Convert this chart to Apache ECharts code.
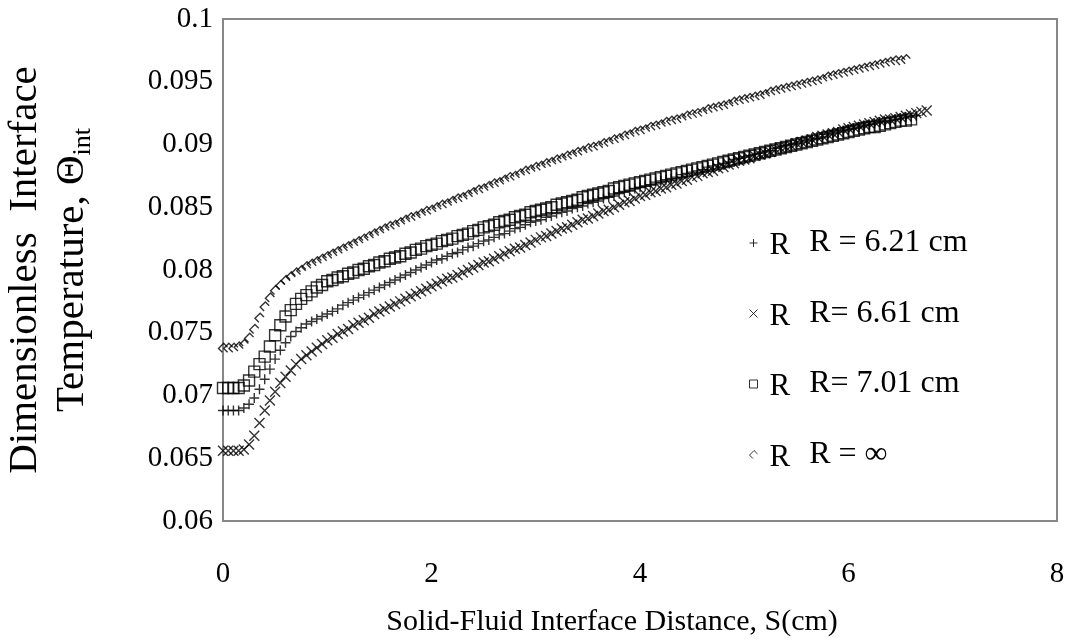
<!DOCTYPE html>
<html>
<head>
<meta charset="utf-8">
<script src="https://cdn.jsdelivr.net/npm/echarts@6/dist/echarts.min.js"></script>
<style>
html,body{margin:0;padding:0;background:#fff;}
#chart{width:1072px;height:641px;}
</style>
</head>
<body>
<div id="chart"></div>
<script>
// Solid-fluid interface distance S (cm), shared sampling positions
const sValues = [
 0,0.05,0.1,0.15,0.2,0.25,0.3,0.35,0.4,0.45,0.5,0.55,0.6,0.65,0.7,0.75,0.8,0.85,0.9,0.95,
 1,1.05,1.1,1.15,1.2,1.25,1.3,1.35,1.4,1.45,1.5,1.55,1.6,1.65,1.7,1.75,1.8,1.85,1.9,1.95,
 2,2.05,2.1,2.15,2.2,2.25,2.3,2.35,2.4,2.45,2.5,2.55,2.6,2.65,2.7,2.75,2.8,2.85,2.9,2.95,
 3,3.05,3.1,3.15,3.2,3.25,3.3,3.35,3.4,3.45,3.5,3.55,3.6,3.65,3.7,3.75,3.8,3.85,3.9,3.95,
 4,4.05,4.1,4.15,4.2,4.25,4.3,4.35,4.4,4.45,4.5,4.55,4.6,4.65,4.7,4.75,4.8,4.85,4.9,4.95,
 5,5.05,5.1,5.15,5.2,5.25,5.3,5.35,5.4,5.45,5.5,5.55,5.6,5.65,5.7,5.75,5.8,5.85,5.9,5.95,
 6,6.05,6.1,6.15,6.2,6.25,6.3,6.35,6.4,6.45,6.5,6.55,6.6,6.65,6.7,6.75
];
// R = 6.21 cm  (+)
const theta621 = [
 .0688,.0688,.0688,.0688,.0690,.0693,.0698,.0705,.0713,.0721,.0729,.0736,.0742,.0747,.0751,.0754,.0757,.0759,.0761,.0763,
 .0765,.0767,.0769,.0772,.0774,.0776,.0778,.0780,.0782,.0784,.0786,.0788,.0790,.0792,.0794,.0796,.0798,.0800,.0802,.0804,
 .0806,.0808,.0809,.0811,.0813,.0814,.0816,.0818,.0819,.0821,.0823,.0824,.0826,.0828,.0829,.0831,.0833,.0834,.0836,.0838,
 .0839,.0840,.0842,.0843,.0845,.0846,.0847,.0849,.0850,.0851,.0853,.0854,.0855,.0857,.0858,.0859,.0861,.0862,.0863,.0865,
 .0866,.0867,.0868,.0870,.0871,.0872,.0873,.0874,.0876,.0877,.0878,.0879,.0880,.0882,.0883,.0884,.0885,.0886,.0888,.0889,
 .0890,.0891,.0892,.0893,.0894,.0895,.0897,.0898,.0899,.0900,.0901,.0902,.0903,.0904,.0905,.0906,.0908,.0909,.0910,.0911,
 .0912,.0913,.0914,.0915,.0916,.0917,.0918,.0918,.0919,.0920,.0921,.0922,.0922,.0923
];
// R = 6.61 cm  (x)
const theta661 = [
 .0656,.0656,.0656,.0656,.0657,.0661,.0668,.0678,.0688,.0696,.0703,.0710,.0715,.0720,.0725,.0729,.0732,.0735,.0738,.0741,
 .0744,.0746,.0749,.0751,.0753,.0756,.0758,.0760,.0762,.0765,.0767,.0769,.0771,.0773,.0775,.0777,.0779,.0781,.0783,.0785,
 .0787,.0789,.0791,.0793,.0794,.0796,.0798,.0800,.0802,.0804,.0806,.0807,.0809,.0811,.0813,.0815,.0817,.0818,.0820,.0822,
 .0824,.0826,.0827,.0829,.0831,.0833,.0834,.0836,.0838,.0840,.0841,.0843,.0845,.0847,.0848,.0850,.0852,.0854,.0855,.0857,
 .0859,.0860,.0862,.0863,.0865,.0866,.0868,.0869,.0871,.0872,.0874,.0875,.0877,.0878,.0879,.0881,.0882,.0884,.0885,.0887,
 .0888,.0889,.0891,.0892,.0893,.0894,.0896,.0897,.0898,.0899,.0901,.0902,.0903,.0904,.0906,.0907,.0908,.0909,.0910,.0912,
 .0913,.0914,.0915,.0916,.0917,.0918,.0919,.0920,.0920,.0921,.0922,.0923,.0924,.0925,.0926,.0927
];
// R = 7.01 cm  (square)
const theta701 = [
 .0706,.0706,.0706,.0706,.0708,.0712,.0719,.0725,.0731,.0739,.0748,.0756,.0763,.0768,.0773,.0777,.0780,.0783,.0786,.0788,
 .0791,.0792,.0794,.0795,.0797,.0798,.0800,.0801,.0803,.0804,.0806,.0807,.0809,.0810,.0811,.0813,.0814,.0816,.0817,.0819,
 .0820,.0821,.0823,.0824,.0825,.0827,.0828,.0829,.0831,.0832,.0834,.0835,.0836,.0838,.0839,.0840,.0842,.0843,.0844,.0846,
 .0847,.0848,.0849,.0850,.0852,.0853,.0854,.0855,.0856,.0858,.0859,.0860,.0861,.0862,.0863,.0865,.0866,.0867,.0868,.0869,
 .0870,.0871,.0872,.0873,.0874,.0875,.0876,.0877,.0878,.0879,.0880,.0881,.0882,.0883,.0884,.0885,.0886,.0887,.0888,.0889,
 .0890,.0891,.0892,.0893,.0894,.0895,.0896,.0897,.0898,.0899,.0900,.0901,.0902,.0903,.0904,.0905,.0906,.0907,.0908,.0909,
 .0910,.0911,.0912,.0913,.0914,.0914,.0915,.0916,.0917,.0918,.0919,.0919,.0920
];
// R = infinity  (diamond)
const thetaInf = [
 .0738,.0738,.0738,.0739,.0741,.0746,.0753,.0762,.0771,.0778,.0784,.0788,.0792,.0795,.0798,.0800,.0803,.0805,.0807,.0809,
 .0811,.0813,.0815,.0817,.0819,.0821,.0823,.0825,.0827,.0829,.0831,.0833,.0835,.0836,.0838,.0840,.0842,.0843,.0845,.0847,
 .0848,.0850,.0852,.0853,.0855,.0857,.0858,.0860,.0862,.0864,.0865,.0867,.0869,.0870,.0872,.0874,.0875,.0877,.0879,.0880,
 .0882,.0883,.0885,.0886,.0888,.0889,.0891,.0892,.0894,.0895,.0897,.0898,.0899,.0901,.0902,.0904,.0905,.0907,.0908,.0910,
 .0911,.0912,.0914,.0915,.0916,.0918,.0919,.0920,.0921,.0923,.0924,.0925,.0926,.0928,.0929,.0930,.0931,.0932,.0934,.0935,
 .0936,.0937,.0938,.0939,.0940,.0942,.0943,.0944,.0945,.0946,.0947,.0948,.0949,.0950,.0951,.0952,.0954,.0955,.0956,.0957,
 .0958,.0959,.0960,.0961,.0962,.0963,.0964,.0965,.0966,.0967,.0967,.0968
];
const seriesNames = ['R = 6.21 cm', 'R= 6.61 cm', 'R= 7.01 cm', 'R = \u221E'];
const xTicks = [0, 2, 4, 6, 8];
const yTicks = [0.06, 0.065, 0.07, 0.075, 0.08, 0.085, 0.09, 0.095, 0.1];

const FONT = '"Liberation Serif", "Times New Roman", serif';
const symPlus = 'path://M5,0L5,10M0,5L10,5';
const symCross = 'path://M0,0L10,10M10,0L0,10';
const symSquare = 'path://M0,0L10,0L10,10L0,10Z';
const symDiamond = 'path://M7,3L4,0L0,4L3,7';

function pts(arr) { return arr.map((v, i) => [sValues[i], v]); }

const markStyle = { color: 'transparent', borderColor: '#000', borderWidth: 1.4 };
const defs = [
  { name: seriesNames[0], data: theta621, symbol: symPlus, size: 10 },
  { name: seriesNames[1], data: theta661, symbol: symCross, size: 10 },
  { name: seriesNames[2], data: theta701, symbol: symSquare, size: 11 },
  { name: seriesNames[3], data: thetaInf, symbol: symDiamond, size: 9 }
];

const chart = echarts.init(document.getElementById('chart'), null, { renderer: 'canvas' });
chart.setOption({
  animation: false,
  backgroundColor: '#fff',
  textStyle: { fontFamily: FONT, color: '#000' },
  grid: { left: 223, right: 15, top: 19, bottom: 120, containLabel: false, outerBoundsMode: 'none',
    show: true, borderColor: '#878787', borderWidth: 2, backgroundColor: 'transparent' },
  xAxis: {
    type: 'value', min: xTicks[0], max: xTicks[xTicks.length - 1], interval: 2,
    axisLine: { show: false }, axisTick: { show: false }, splitLine: { show: false },
    axisLabel: { fontFamily: FONT, fontSize: 29, color: '#000', margin: 39 },
    name: 'Solid-Fluid Interface Distance, S(cm)', nameLocation: 'middle', nameGap: 86,
    nameTextStyle: { fontFamily: FONT, fontSize: 30, color: '#000', padding: [0, 56, 0, 0] }
  },
  yAxis: {
    type: 'value', min: yTicks[0], max: yTicks[yTicks.length - 1], interval: 0.005,
    axisLine: { show: false }, axisTick: { show: false }, splitLine: { show: false },
    axisLabel: { fontFamily: FONT, fontSize: 29, color: '#000', margin: 10,
      formatter: v => String(+v.toFixed(3)) },
    name: 'Dimensionless  Interface\nTemperature, \u0398{sub|int}', nameLocation: 'middle', nameGap: 127, nameRotate: 90,
    nameTextStyle: { fontFamily: FONT, fontSize: 41, color: '#000', lineHeight: 47,
      rich: { sub: { fontFamily: FONT, fontSize: 26, color: '#000', verticalAlign: 'bottom', lineHeight: 26 } } }
  },
  legend: {
    orient: 'vertical', left: 744, top: 220, itemGap: 34, itemWidth: 8, itemHeight: 8,
    selectedMode: false,
    data: defs.map(d => ({ name: d.name, icon: d.symbol, itemStyle: { color: 'transparent', borderColor: '#000', borderWidth: 1 } })),
    formatter: name => '{r|R}{l|' + name + '}',
    textStyle: {
      fontFamily: FONT, fontSize: 32, color: '#000', lineHeight: 36,
      rich: {
        r: { fontFamily: FONT, fontSize: 31, color: '#000', padding: [6, 0, 0, 7] },
        l: { fontFamily: FONT, fontSize: 32, color: '#000', padding: [0, 0, 0, 19] }
      }
    }
  },
  series: defs.map(d => ({
    type: 'scatter', name: d.name, data: pts(d.data), symbol: d.symbol, symbolSize: d.size,
    itemStyle: markStyle, emphasis: { disabled: true }
  }))
});
</script>
</body>
</html>
